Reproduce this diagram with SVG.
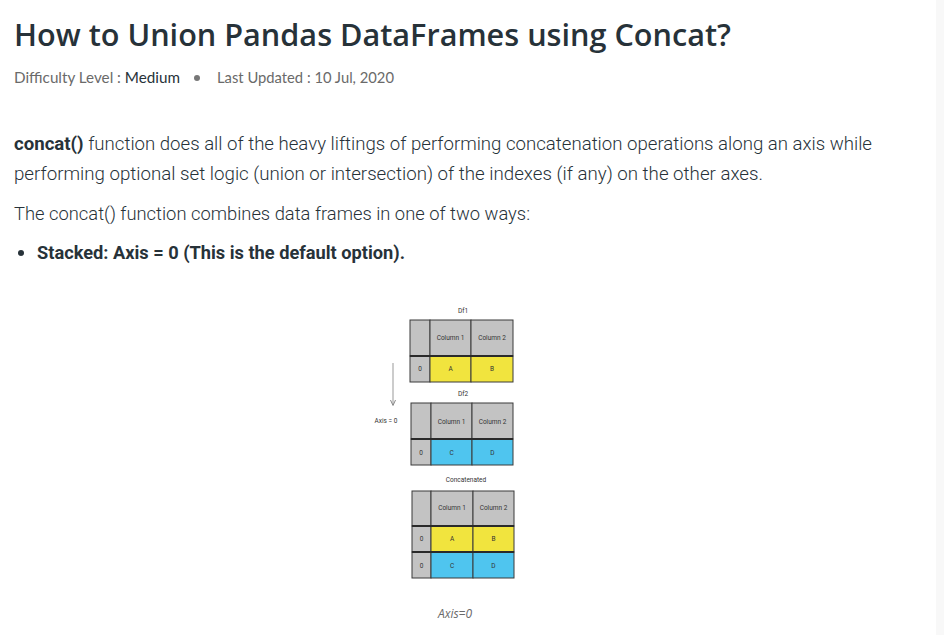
<svg xmlns="http://www.w3.org/2000/svg" width="944" height="635" viewBox="0 0 944 635">
<style>
.title{font-family:"Open Sans","Liberation Sans",sans-serif;font-weight:600;font-size:30px;fill:#273239}
.meta{font-family:"Lato","Liberation Sans",sans-serif;font-size:15px;fill:#6a6a6a}
.metad{fill:#273239}
.body{font-family:"Roboto","Liberation Sans Narrow","Liberation Sans",sans-serif;font-weight:300;font-size:18px;fill:#273239}
.bold{font-weight:700}
.lbl{font-family:"Roboto","Liberation Sans",sans-serif;font-size:6.5px;fill:#333;text-anchor:middle}
.cell{stroke:#3a3a3a;stroke-width:1}
.g{fill:#c3c3c3}
.y{fill:#f1e43e}
.b{fill:#4fc5ef}
.sep{stroke:#2a2a2a;stroke-width:2}
.cap{font-family:"Open Sans","Liberation Sans",sans-serif;font-style:italic;font-size:12px;fill:#6a6a6a;text-anchor:middle}
</style>
<defs>
<marker id="ah" markerWidth="6" markerHeight="6" refX="5" refY="3" orient="auto" markerUnits="userSpaceOnUse" viewBox="0 0 6 6">
<path d="M0,0.5 L5.5,3 L0,5.5" fill="none" stroke="#888" stroke-width="1"/>
</marker>
</defs>
<rect width="944" height="635" fill="#ffffff"/>
<rect x="936" y="0" width="8" height="635" fill="#f8f8f8"/>

<g id="header">
<text class="title" x="14" y="46" textLength="717" lengthAdjust="spacingAndGlyphs">How to Union Pandas DataFrames using Concat?</text>
<text class="meta" x="14" y="83" textLength="166" lengthAdjust="spacingAndGlyphs">Difficulty Level : <tspan class="metad">Medium</tspan></text>
<circle cx="197" cy="78" r="3" fill="#777"/>
<text class="meta" x="217" y="83" textLength="177" lengthAdjust="spacingAndGlyphs">Last Updated : 10 Jul, 2020</text>
</g>

<g id="body-text">
<text class="body" x="14" y="150" textLength="858" lengthAdjust="spacingAndGlyphs"><tspan class="bold">concat()</tspan> function does all of the heavy liftings of performing concatenation operations along an axis while</text>
<text class="body" x="14" y="180" textLength="749" lengthAdjust="spacingAndGlyphs">performing optional set logic (union or intersection) of the indexes (if any) on the other axes.</text>
<text class="body" x="14" y="220" textLength="516" lengthAdjust="spacingAndGlyphs">The concat() function combines data frames in one of two ways:</text>
<circle cx="21" cy="253" r="3" fill="#273239"/>
<text class="body bold" x="37" y="259" textLength="368" lengthAdjust="spacingAndGlyphs">Stacked: Axis = 0 (This is the default option).</text>
</g>

<g id="df1">
<text class="lbl" x="463" y="313">Df1</text>
<rect class="cell g" x="410" y="320" width="20" height="36"/>
<rect class="cell g" x="430" y="320" width="41" height="36"/>
<rect class="cell g" x="471" y="320" width="42" height="36"/>
<rect class="cell g" x="410" y="356" width="20" height="26"/>
<rect class="cell y" x="430" y="356" width="41" height="26"/>
<rect class="cell y" x="471" y="356" width="42" height="26"/>
<line class="sep" x1="410" y1="356" x2="513" y2="356"/>
<text class="lbl" x="450.5" y="340">Column 1</text>
<text class="lbl" x="492" y="340">Column 2</text>
<text class="lbl" x="420" y="371">0</text>
<text class="lbl" x="450.5" y="371">A</text>
<text class="lbl" x="492" y="371">B</text>
</g>

<g id="df2">
<text class="lbl" x="463" y="396">Df2</text>
<rect class="cell g" x="411" y="403" width="20" height="36"/>
<rect class="cell g" x="431" y="403" width="41" height="36"/>
<rect class="cell g" x="472" y="403" width="41" height="36"/>
<rect class="cell g" x="411" y="439" width="20" height="26"/>
<rect class="cell b" x="431" y="439" width="41" height="26"/>
<rect class="cell b" x="472" y="439" width="41" height="26"/>
<line class="sep" x1="411" y1="439" x2="513" y2="439"/>
<text class="lbl" x="451.5" y="424">Column 1</text>
<text class="lbl" x="492.5" y="424">Column 2</text>
<text class="lbl" x="421" y="455">0</text>
<text class="lbl" x="451.5" y="455">C</text>
<text class="lbl" x="492.5" y="455">D</text>
</g>

<g id="concatenated">
<text class="lbl" x="466" y="482">Concatenated</text>
<rect class="cell g" x="412" y="491" width="19" height="35"/>
<rect class="cell g" x="431" y="491" width="42" height="35"/>
<rect class="cell g" x="473" y="491" width="41" height="35"/>
<rect class="cell g" x="412" y="526" width="19" height="26"/>
<rect class="cell y" x="431" y="526" width="42" height="26"/>
<rect class="cell y" x="473" y="526" width="41" height="26"/>
<rect class="cell g" x="412" y="552" width="19" height="26"/>
<rect class="cell b" x="431" y="552" width="42" height="26"/>
<rect class="cell b" x="473" y="552" width="41" height="26"/>
<line class="sep" x1="412" y1="526" x2="514" y2="526"/>
<line class="sep" x1="412" y1="552" x2="514" y2="552"/>
<text class="lbl" x="452" y="510">Column 1</text>
<text class="lbl" x="493.5" y="510">Column 2</text>
<text class="lbl" x="421.5" y="541">0</text>
<text class="lbl" x="452" y="541">A</text>
<text class="lbl" x="493.5" y="541">B</text>
<text class="lbl" x="421.5" y="568">0</text>
<text class="lbl" x="452" y="568">C</text>
<text class="lbl" x="493.5" y="568">D</text>
</g>

<g id="connectors">
<line x1="393" y1="363" x2="393" y2="405" stroke="#999" stroke-width="1" marker-end="url(#ah)"/>
</g>
<g id="axis-label">
<text class="lbl" x="386" y="423">Axis = 0</text>
</g>
<g id="caption">
<text class="cap" x="455" y="618">Axis=0</text>
</g>
</svg>
